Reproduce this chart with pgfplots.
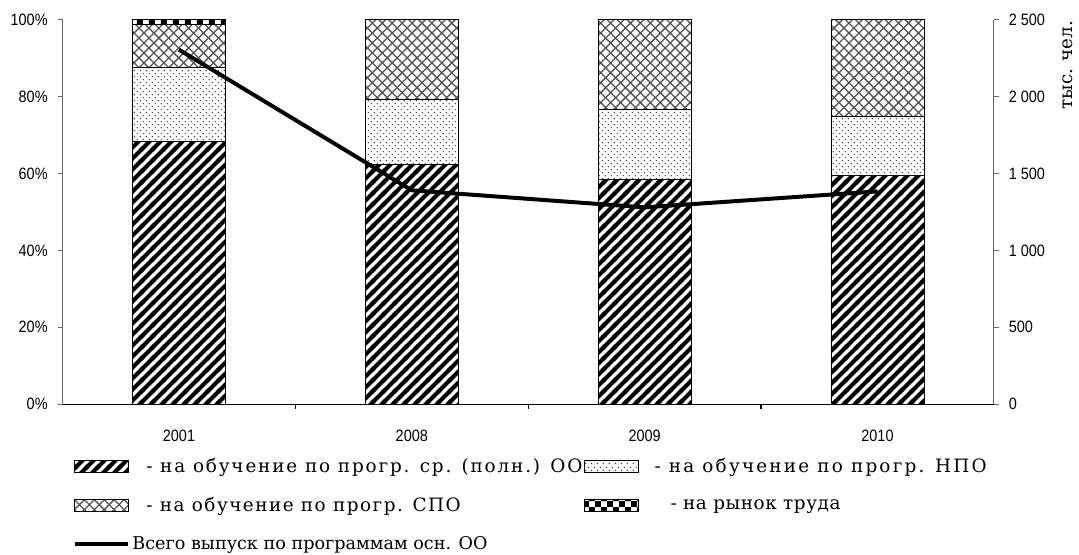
\documentclass[border=0pt]{standalone}
\usepackage{fontspec}
\setmainfont{DejaVu Serif}
\newfontfamily\legfont[LetterSpace=8]{DejaVu Serif}
\newfontfamily\legfontw[LetterSpace=10]{DejaVu Serif}
\newfontfamily\legfontx[LetterSpace=12]{DejaVu Serif}
\newfontfamily\legfontb[LetterSpace=3]{DejaVu Serif}
\newfontfamily\tickfont[FakeStretch=0.88]{Liberation Sans}
\usepackage{pgfplots}
\pgfplotsset{compat=1.18}
\usetikzlibrary{patterns,calc}

\pgfdeclarepatternformonly{mychecker}{\pgfqpoint{0bp}{0bp}}{\pgfqpoint{6bp}{6bp}}{\pgfqpoint{6bp}{6bp}}{%
  \pgfpathrectangle{\pgfqpoint{0bp}{0bp}}{\pgfqpoint{3bp}{3bp}}%
  \pgfpathrectangle{\pgfqpoint{3bp}{3bp}}{\pgfqpoint{3bp}{3bp}}%
  \pgfusepath{fill}}

\pgfdeclarepatternformonly{mystripes}{\pgfqpoint{0bp}{0bp}}{\pgfqpoint{5.5bp}{5.5bp}}{\pgfqpoint{5.5bp}{5.5bp}}{%
  \pgfpathmoveto{\pgfqpoint{0bp}{0bp}}%
  \pgfpathlineto{\pgfqpoint{1.5bp}{0bp}}%
  \pgfpathlineto{\pgfqpoint{5.5bp}{4bp}}%
  \pgfpathlineto{\pgfqpoint{5.5bp}{5.5bp}}%
  \pgfpathlineto{\pgfqpoint{4bp}{5.5bp}}%
  \pgfpathlineto{\pgfqpoint{0bp}{1.5bp}}%
  \pgfpathclose
  \pgfpathmoveto{\pgfqpoint{0bp}{4bp}}%
  \pgfpathlineto{\pgfqpoint{0bp}{5.5bp}}%
  \pgfpathlineto{\pgfqpoint{1.5bp}{5.5bp}}%
  \pgfpathclose
  \pgfpathmoveto{\pgfqpoint{4bp}{0bp}}%
  \pgfpathlineto{\pgfqpoint{5.5bp}{0bp}}%
  \pgfpathlineto{\pgfqpoint{5.5bp}{1.5bp}}%
  \pgfpathclose
  \pgfusepath{fill}}

\pgfdeclarepatternformonly{mycross}{\pgfqpoint{-0.5bp}{-0.5bp}}{\pgfqpoint{5.5bp}{5.5bp}}{\pgfqpoint{5bp}{5bp}}{%
  \pgfsetlinewidth{0.65bp}%
  \pgfpathmoveto{\pgfqpoint{0bp}{0bp}}\pgfpathlineto{\pgfqpoint{5bp}{5bp}}%
  \pgfpathmoveto{\pgfqpoint{0bp}{5bp}}\pgfpathlineto{\pgfqpoint{5bp}{0bp}}%
  \pgfusepath{stroke}}

\pgfdeclarepatternformonly{mydots}{\pgfqpoint{0bp}{0bp}}{\pgfqpoint{3.2bp}{3.2bp}}{\pgfqpoint{3.2bp}{3.2bp}}{%
  \pgfpathcircle{\pgfqpoint{0.8bp}{0.8bp}}{0.42bp}%
  \pgfpathcircle{\pgfqpoint{2.4bp}{2.4bp}}{0.42bp}%
  \pgfusepath{fill}}

\pgfplotsset{
  barleg/.style={legend image code/.code={\draw[##1,draw=black,line width=0.4bp] (0bp,-3bp) rectangle (27bp,3bp);}},
  lineleg/.style={legend image code/.code={\draw[##1] (0bp,0bp) -- (27bp,0bp);}},
}

\pgfplotstableread{
x hatch dots cross check
0 68.4 19.1 11.4 1.1
1 62.3 16.9 20.8 0
2 58.5 18.3 23.2 0
3 59.5 15.5 25.0 0
}\shares

\pgfplotstableread{
x total
0 2306
1 1391
2 1280
3 1384
}\totals

\begin{document}
\begin{tikzpicture}
\begin{axis}[name=main, scale only axis, width=469bp, height=193.5bp,
  xmin=-0.5, xmax=3.5, ymin=0, ymax=100,
  ybar stacked, bar width=0.4,
  axis y line*=left, axis x line*=bottom,
  axis line style={-},
  y axis line style={gray!80!black, line width=0.6bp},
  x axis line style={black, line width=0.6bp},
  xtick={0,1,2,3}, xticklabels={2001,2008,2009,2010},
  major x tick style={draw=none},
  minor xtick={0.5,1.5,2.5},
  minor x tick style={black, line width=0.6bp},
  ytick={0,20,...,100}, yticklabels={0\%,20\%,40\%,60\%,80\%,100\%},
  y tick style={gray!80!black, line width=0.6bp},
  tick align=outside, major tick length=2.5bp, minor tick length=2.5bp,
  tick label style={font=\tickfont\fontsize{8.3}{9}\selectfont},
  xticklabel style={yshift=-7bp},
  yticklabel style={xshift=-1.5bp},
  legend columns=2, legend cell align=left,
  legend style={at={(0,0)}, anchor=north west, xshift=5bp, yshift=-26bp,
    draw=none, fill=none, inner sep=0pt, row sep=9bp,
    nodes={inner sep=1bp},
    font=\fontsize{9.3}{11}\selectfont},
]
\addplot[draw=black, line width=0.4bp, pattern=mystripes, pattern color=black, barleg] table[x=x,y=hatch]{\shares};
\addlegendentry{\legfontw\hspace*{7bp}- на обучение по прогр. ср. (полн.) ОО}
\addplot[draw=black, line width=0.4bp, pattern=mydots, pattern color=gray!55!black, barleg] table[x=x,y=dots]{\shares};
\addlegendentry{\legfontx\hspace*{7bp}- на обучение по прогр. НПО}
\addplot[draw=black, line width=0.4bp, pattern=mycross, pattern color=gray!65!black, barleg] table[x=x,y=cross]{\shares};
\addlegendentry{\legfont\hspace*{7bp}- на обучение по прогр. СПО}
\addplot[draw=black, line width=0.4bp, pattern=mychecker, pattern color=black, barleg] table[x=x,y=check]{\shares};
\addlegendentry{\legfontb\hspace*{15bp}- на рынок труда}
\addlegendimage{black, line width=2bp, lineleg}
\addlegendentry{\fontsize{8.9}{11}\selectfont Всего выпуск по программам осн. ОО}
\end{axis}
\begin{axis}[scale only axis, width=469bp, height=193.5bp,
  xmin=-0.5, xmax=3.5, ymin=0, ymax=2500,
  axis y line*=right, axis x line=none,
  y axis line style={gray!80!black, line width=0.6bp, -},
  ytick={0,500,...,2500},
  y tick style={gray!80!black, line width=0.6bp},
  tick align=outside, major tick length=2.5bp,
  yticklabel style={font=\tickfont\fontsize{8.3}{9}\selectfont, xshift=1.5bp,
    /pgf/number format/assume math mode=true, /pgf/number format/1000 sep={\ }},
  clip=false]
\addplot[black, line width=2bp] table[x=x,y=total]{\totals};
\node[xshift=31bp, yshift=3bp, rotate=90, anchor=north east, font=\fontsize{9.2}{10}\selectfont] at (rel axis cs:1,1) {тыс. чел.};
\end{axis}
\path ($(main.south west)+(-31.5bp,-71bp)$) rectangle ($(main.north east)+(39bp,10bp)$);
\end{tikzpicture}
\end{document}
